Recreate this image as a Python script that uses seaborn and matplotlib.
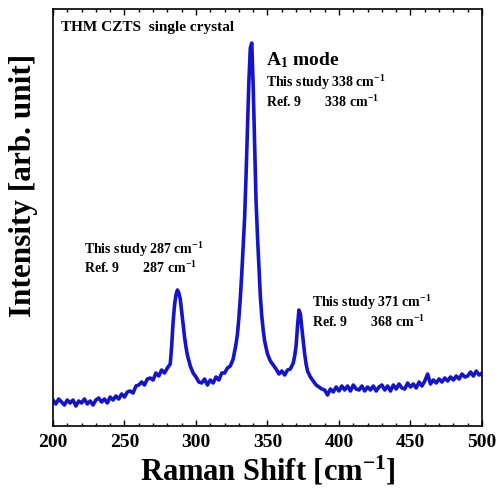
import matplotlib
matplotlib.use("Agg")
import matplotlib.pyplot as plt
from matplotlib.ticker import MultipleLocator, NullLocator
import seaborn as sns
import pandas as pd

# Raman spectrum of the THM-grown CZTS single crystal
raman_shift = [
    200, 202, 204, 206, 208, 210, 212, 214, 216, 218, 220, 222, 224, 226, 228,
    230, 232, 234, 236, 238, 240, 242, 244, 246, 248, 250, 252, 254, 256, 258,
    260, 262, 264, 266, 268, 270, 272, 274, 276, 278, 280, 282, 283, 284, 285,
    286, 287, 288, 289, 290, 291, 292, 293, 294, 296, 298, 300, 302, 304, 306,
    308, 310, 312, 314, 316, 318, 320, 322, 324, 326, 328, 329, 330, 331, 332,
    333, 334, 335, 336, 337, 338, 339, 340, 341, 342, 343, 344, 345, 346, 347,
    348, 350, 352, 354, 356, 358, 360, 362, 364, 366, 368, 369, 370, 371, 372,
    373, 374, 375, 376, 377, 378, 380, 382, 384, 386, 388, 390, 392, 394, 396,
    398, 400, 402, 404, 406, 408, 410, 412, 414, 416, 418, 420, 422, 424, 426,
    428, 430, 432, 434, 436, 438, 440, 442, 444, 446, 448, 450, 452, 454, 456,
    458, 460, 462, 464, 466, 468, 470, 472, 474, 476, 478, 480, 482, 484, 486,
    488, 490, 492, 494, 496, 498, 500,
]
intensity = [
    26, 22, 27, 24, 21, 26, 23, 26, 20, 25, 23, 27, 22, 25, 21,
    26, 28, 24, 27, 23, 29, 26, 30, 27, 32, 29, 34, 35, 33, 40,
    41, 44, 41, 47, 48, 46, 53, 50, 56, 53, 58, 62, 80, 104, 121,
    131, 136, 133, 127, 114, 100, 89, 79, 71, 60, 53, 49, 44, 43, 47,
    41, 46, 43, 49, 46, 53, 53, 58, 60, 67, 82, 92, 108, 128, 152,
    180, 208, 250, 298, 345, 378, 383, 340, 282, 225, 190, 160, 130, 110, 96,
    85, 72, 65, 61, 57, 52, 55, 51, 56, 57, 63, 70, 80, 100, 116,
    112, 98, 85, 72, 62, 55, 49, 45, 41, 39, 37, 36, 31, 37, 34,
    39, 35, 40, 36, 40, 35, 41, 37, 36, 40, 35, 39, 36, 40, 35,
    39, 41, 36, 40, 35, 41, 37, 42, 38, 37, 43, 39, 42, 38, 44,
    40, 45, 52, 42, 46, 43, 47, 44, 48, 45, 49, 46, 50, 47, 52,
    49, 50, 54, 50, 55, 51, 53,
]

x_ticks = [200, 250, 300, 350, 400, 450, 500]

sns.set_theme(style="ticks")
plt.rcParams["font.family"] = ["Liberation Serif", "DejaVu Serif"]
plt.rcParams["font.weight"] = "bold"
plt.rcParams["text.color"] = "black"
plt.rcParams["axes.labelcolor"] = "black"
plt.rcParams["xtick.color"] = "black"
plt.rcParams["xtick.labelcolor"] = "black"
plt.rcParams["mathtext.fontset"] = "custom"
plt.rcParams["mathtext.rm"] = "Liberation Serif:bold"
plt.rcParams["mathtext.bf"] = "Liberation Serif:bold"
plt.rcParams["mathtext.it"] = "Liberation Serif:bold:italic"

df = pd.DataFrame({"shift": raman_shift, "intensity": intensity})

fig = plt.figure(figsize=(4.97, 4.93), dpi=100)
ax = fig.add_axes([0.1066, 0.1359, 0.8632, 0.8458])

sns.lineplot(data=df, x="shift", y="intensity", color="#1414c8",
             linewidth=2.6, ax=ax, estimator=None, sort=False)

ax.set_xlim(200, 500)
ax.set_ylim(0, 417)
ax.set_xticks(x_ticks)
ax.set_xticklabels([str(t) for t in x_ticks], fontsize=14, fontweight="bold",
                   color="black")
ax.xaxis.set_minor_locator(MultipleLocator(10))
ax.yaxis.set_major_locator(NullLocator())
ax.tick_params(axis="x", which="both", direction="in", top=True, bottom=True,
               colors="black")
ax.tick_params(axis="x", which="major", length=4, width=1.0, pad=6)
ax.tick_params(axis="x", which="minor", length=2.5, width=1.0)
for s in ax.spines.values():
    s.set_linewidth(1.2)
    s.set_color("black")

ax.set_xlabel(r"Raman Shift [cm$^{-1}$]", fontsize=22, fontweight="bold",
              labelpad=2, color="black")
ax.set_ylabel("Intensity [arb. unit]", fontsize=22.5, fontweight="bold",
              color="black")
ax.yaxis.set_label_coords(-0.034, 0.578)

ax.text(0.018, 0.955, "THM CZTS  single crystal", transform=ax.transAxes,
        fontsize=11, fontweight="bold", ha="left", va="center", color="black")
ax.text(349, 366, r"A$_1$ mode", fontsize=14, fontweight="bold",
        ha="left", va="center", color="black")
ax.text(349, 343, r"This study 338 cm$^{-1}$", fontsize=10, fontweight="bold",
        ha="left", va="center", color="black")
ax.text(349, 324, r"Ref. 9       338 cm$^{-1}$", fontsize=10, fontweight="bold",
        ha="left", va="center", color="black")
ax.text(222, 176, r"This study 287 cm$^{-1}$", fontsize=10, fontweight="bold",
        ha="left", va="center", color="black")
ax.text(222, 158, r"Ref. 9       287 cm$^{-1}$", fontsize=10, fontweight="bold",
        ha="left", va="center", color="black")
ax.text(381, 123, r"This study 371 cm$^{-1}$", fontsize=10, fontweight="bold",
        ha="left", va="center", color="black")
ax.text(381, 104, r"Ref. 9       368 cm$^{-1}$", fontsize=10, fontweight="bold",
        ha="left", va="center", color="black")

fig.savefig("out.png", dpi=100)
